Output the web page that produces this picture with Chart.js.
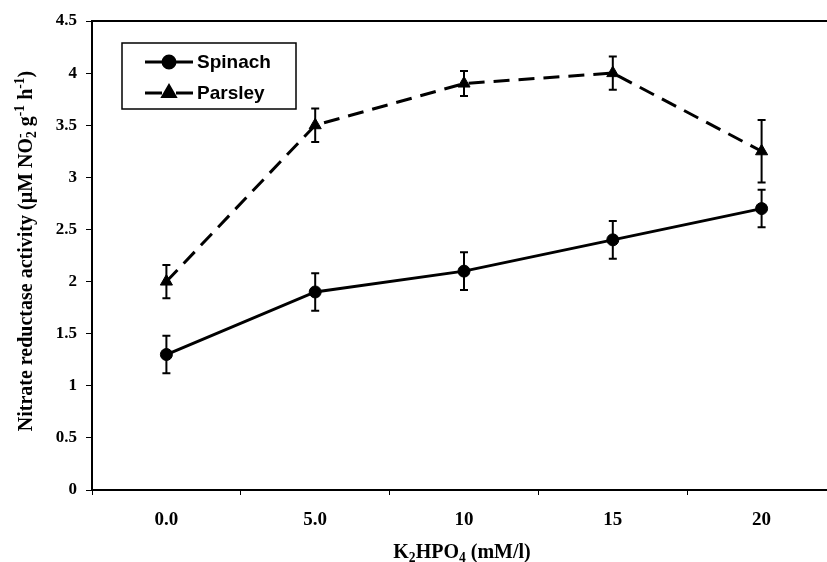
<!DOCTYPE html>
<html>
<head>
<meta charset="utf-8">
<script src="https://cdn.jsdelivr.net/npm/chart.js@4.4.1/dist/chart.umd.min.js"></script>
<style>
    html, body { margin: 0; padding: 0; background: #fff; overflow: hidden; }
    #wrap { position: relative; width: 844px; height: 562px; }
</style>
</head>
<body>
<div id="wrap"><canvas id="chart" width="844" height="562"></canvas></div>
<script>
// K2HPO4 doses (mM/l)
const doses = ['0.0', '5.0', '10', '15', '20'];

// Nitrate reductase activity, mean and error
const spinach = [1.3, 1.9, 2.1, 2.4, 2.7];
const spinachErr = [0.18, 0.18, 0.18, 0.18, 0.18];
const parsley = [2.0, 3.5, 3.9, 4.0, 3.25];
const parsleyErr = [0.16, 0.16, 0.12, 0.16, 0.30];

const yMin = 0;
const yMax = 4.5;
const yStep = 0.5;

const serif = '"Liberation Serif", "Times New Roman", serif';
const sans = '"Liberation Sans", Arial, sans-serif';

// axis titles with sub/superscripts
const xTitleRuns = [
    { t: 'K' }, { t: '2', mode: 'sub' }, { t: 'HPO' }, { t: '4', mode: 'sub' }, { t: ' (mM/l)' }
];
const yTitleRuns = [
    { t: 'Nitrate reductase activity (\u00b5M NO' },
    { t: '2', mode: 'sub' }, { t: '-', mode: 'sup', stack: true },
    { t: ' g' }, { t: '-1', mode: 'sup' },
    { t: ' h' }, { t: '-1', mode: 'sup' }, { t: ')' }
];

function layoutRuns(ctx, runs, size) {
    let x = 0;
    let last = null;
    const items = [];
    for (const r of runs) {
        const fs = r.mode ? size * 0.68 : size;
        const font = `bold ${fs}px ${serif}`;
        ctx.font = font;
        const w = ctx.measureText(r.t).width;
        let start = x;
        if (r.stack && last) {
            start = last.start;
            x = Math.max(last.start + last.w, start + w);
        } else {
            x = start + w;
        }
        const dy = r.mode === 'sub' ? size * 0.28 : r.mode === 'sup' ? -size * 0.35 : 0;
        last = { t: r.t, font, start, w, dy };
        items.push(last);
    }
    return { items, width: x };
}

function drawRuns(ctx, runs, size) {
    const lay = layoutRuns(ctx, runs, size);
    ctx.textAlign = 'left';
    ctx.textBaseline = 'middle';
    ctx.fillStyle = '#000';
    lay.items.forEach(it => {
        ctx.font = it.font;
        ctx.fillText(it.t, it.start - lay.width / 2, it.dy);
    });
}

const errorBars = {
    id: 'errorBars',
    afterDatasetsDraw(chart) {
        const ctx = chart.ctx;
        const y = chart.scales.y;
        ctx.save();
        ctx.strokeStyle = '#000';
        ctx.lineWidth = 2;
        chart.data.datasets.forEach((ds, i) => {
            const meta = chart.getDatasetMeta(i);
            meta.data.forEach((pt, j) => {
                const top = y.getPixelForValue(ds.data[j] + ds.errors[j]);
                const bot = y.getPixelForValue(ds.data[j] - ds.errors[j]);
                ctx.beginPath();
                ctx.moveTo(pt.x, top);
                ctx.lineTo(pt.x, bot);
                ctx.moveTo(pt.x - 4, top);
                ctx.lineTo(pt.x + 4, top);
                ctx.moveTo(pt.x - 4, bot);
                ctx.lineTo(pt.x + 4, bot);
                ctx.stroke();
            });
        });
        ctx.restore();
    }
};

const decorations = {
    id: 'decorations',
    afterDraw(chart) {
        const ctx = chart.ctx;
        const a = chart.chartArea;
        ctx.save();

        // top frame line
        ctx.strokeStyle = '#000';
        ctx.lineWidth = 2;
        ctx.beginPath();
        ctx.moveTo(a.left, a.top);
        ctx.lineTo(a.right, a.top);
        ctx.stroke();

        // axis titles
        ctx.save();
        ctx.translate(462, 553);
        drawRuns(ctx, xTitleRuns, 20);
        ctx.restore();

        ctx.save();
        ctx.translate(27, 251);
        ctx.rotate(-Math.PI / 2);
        drawRuns(ctx, yTitleRuns, 20);
        ctx.restore();

        // legend
        ctx.strokeStyle = '#000';
        ctx.lineWidth = 1.5;
        ctx.strokeRect(122, 43, 174, 66);
        const rows = [62, 93];
        chart.data.datasets.forEach((ds, i) => {
            const yy = rows[i];
            ctx.lineWidth = 3;
            ctx.setLineDash(ds.borderDash ? [17, 14] : []);
            ctx.beginPath();
            ctx.moveTo(145, yy);
            ctx.lineTo(193, yy);
            ctx.stroke();
            ctx.setLineDash([]);
            Chart.helpers.drawPoint(ctx, {
                pointStyle: ds.pointStyle,
                radius: ds.pointRadius,
                rotation: 0,
                borderWidth: 1
            }, 169, yy);
            ctx.fillStyle = '#000';
            ctx.font = `bold 19px ${sans}`;
            ctx.textAlign = 'left';
            ctx.textBaseline = 'middle';
            ctx.fillText(ds.label, 197, yy + 1);
        });
        ctx.restore();
    }
};

new Chart(document.getElementById('chart'), {
    type: 'line',
    data: {
        labels: doses,
        datasets: [
            {
                label: 'Spinach',
                data: spinach,
                errors: spinachErr,
                borderColor: '#000',
                backgroundColor: '#000',
                borderWidth: 3,
                pointStyle: 'circle',
                pointRadius: 6,
                pointBorderWidth: 1,
                pointBackgroundColor: '#000',
                pointBorderColor: '#000',
                tension: 0
            },
            {
                label: 'Parsley',
                data: parsley,
                errors: parsleyErr,
                borderColor: '#000',
                backgroundColor: '#000',
                borderWidth: 3,
                borderDash: [16, 9],
                pointStyle: 'triangle',
                pointRadius: 7,
                pointBorderWidth: 1,
                pointBackgroundColor: '#000',
                pointBorderColor: '#000',
                tension: 0
            }
        ]
    },
    options: {
        responsive: false,
        animation: false,
        layout: { padding: { top: 21, right: 2, left: 0, bottom: 0 } },
        plugins: {
            legend: { display: false },
            tooltip: { enabled: false }
        },
        scales: {
            x: {
                offset: true,
                grid: {
                    offset: true,
                    drawOnChartArea: false,
                    drawTicks: true,
                    tickLength: 5,
                    color: '#000'
                },
                border: { display: true, color: '#000', width: 2 },
                ticks: {
                    color: '#000',
                    padding: 14,
                    maxRotation: 0,
                    font: { family: serif, size: 19, weight: 'bold' }
                },
                afterFit(scale) {
                    scale.height = 72;
                    scale.paddingLeft = 0;
                    scale.paddingRight = 0;
                }
            },
            y: {
                min: yMin,
                max: yMax,
                grid: {
                    drawOnChartArea: false,
                    drawTicks: true,
                    tickLength: 6,
                    color: '#000'
                },
                border: { display: true, color: '#000', width: 2 },
                ticks: {
                    stepSize: yStep,
                    color: '#000',
                    padding: 9,
                    font: { family: serif, size: 17, weight: 'bold' },
                    callback: v => String(v)
                },
                afterFit(scale) { scale.width = 92; }
            }
        }
    },
    plugins: [errorBars, decorations]
});
</script>
</body>
</html>
